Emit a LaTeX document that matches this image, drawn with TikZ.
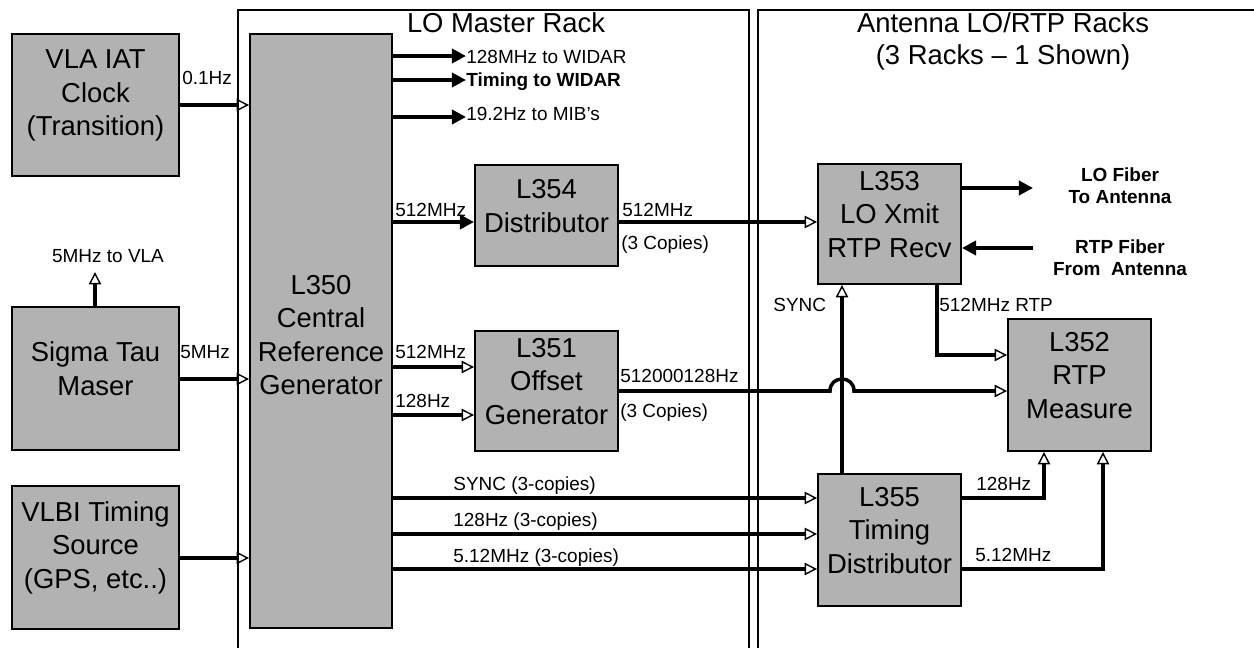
\documentclass[tikz,border=0pt]{standalone}
\usepackage{fontspec}
\setmainfont{Liberation Sans}
\usetikzlibrary{arrows.meta,fit}
\definecolor{boxgray}{RGB}{178,178,178}
\begin{document}
\begin{tikzpicture}[x=0.02cm,y=-0.02cm,
  blk/.style={draw=black,line width=1.1pt,fill=boxgray,inner sep=0pt,align=center,font=\fontsize{15.6}{19}\selectfont},
  boxtxt/.style={align=center,inner sep=0pt,font=\fontsize{15.6}{19}\selectfont},
  lbl/.style={inner sep=0pt,font=\fontsize{10.8}{13}\selectfont},
  blbl/.style={inner sep=0pt,align=center,font=\fontsize{10.8}{12.4}\selectfont\bfseries},
  ttl/.style={inner sep=0pt,align=center,font=\fontsize{15.6}{18}\selectfont},
  frame/.style={draw=black,line width=1.1pt},
  wire/.style={draw=black,line width=2pt},
  oarr/.style={wire,-{Triangle[open,length=7pt,width=7pt,line width=0.8pt]}},
  farr/.style={wire,-{Triangle[length=8pt,width=8pt]}}]
\useasboundingbox (0,0) rectangle (1254,648);
% rack frames
\draw[frame] (238,648) -- (238,10) -- (749,10) -- (749,648);
\draw[frame] (758,648) -- (758,10) -- (1254,10);
\node[ttl,anchor=base] (t_lo) at (506,33) {LO Master Rack};
\node[ttl,anchor=base] (t_ant1) at (1003,33) {Antenna LO/RTP Racks};
\node[ttl,anchor=base] (t_ant2) at (1003,65) {(3 Racks -- 1 Shown)};
% boxes
\node[blk,fit={(12,34)(179,176)}] (iat) {VLA IAT\\Clock\\(Transition)};
\node[blk,fit={(12,307)(179,450)}] (maser) {Sigma Tau\\Maser};
\node[blk,fit={(12,486)(179,629)}] (vlbi) {VLBI Timing\\Source\\(GPS, etc..)};
\node[blk,fit={(250,34)(392,628)}] (l350) {};
\node[boxtxt] (l350t) at (321,335) {L350\\Central\\Reference\\Generator};
\node[blk,fit={(475,165)(618,266)}] (l354) {L354\\Distributor};
\node[blk,fit={(475,331)(618,451)}] (l351) {L351\\Offset\\Generator};
\node[blk,fit={(818,164)(961,284)}] (l353) {L353\\LO Xmit\\RTP Recv};
\node[blk,fit={(1008,319)(1151,451)}] (l352) {L352\\RTP\\Measure};
\node[blk,fit={(818,474)(961,606)}] (l355) {L355\\Timing\\Distributor};
% inputs to L350
\draw[oarr] (iat.east |- 0,105) -- (l350.west |- 0,105);
\node[lbl,anchor=base west] (lb01) at (182,85) {0.1Hz};
\draw[oarr] (maser.east |- 0,379) -- (l350.west |- 0,379);
\node[lbl,anchor=base west] (lb5) at (180,358) {5MHz};
\draw[oarr] (vlbi.east |- 0,558) -- (l350.west |- 0,558);
\node[lbl,anchor=base] (lbvla) at (108,263) {5MHz to VLA};
\coordinate (vlatip) at (95,272);
\draw[oarr] (maser.north -| vlatip) -- (vlatip);
% outputs to WIDAR etc
\node[lbl,anchor=base west] (w1) at (466,64) {128MHz to WIDAR};
\draw[farr] (l350.east |- 0,56) -- (w1.west |- 0,56);
\node[lbl,anchor=base west,font=\fontsize{10.8}{13}\selectfont\bfseries] (w2) at (466,87) {Timing to WIDAR};
\draw[farr] (l350.east |- 0,80) -- (w2.west |- 0,80);
\node[lbl,anchor=base west] (w3) at (466,121) {19.2Hz to MIB's};
\draw[farr] (l350.east |- 0,117) -- (w3.west |- 0,117);
% L350 -> L354 -> L353
\draw[farr] (l350.east |- 0,222) -- (l354.west |- 0,222);
\node[lbl,anchor=base west] (lb512a) at (395,217) {512MHz};
\draw[oarr] (l354.east |- 0,222) -- (l353.west |- 0,222);
\node[lbl,anchor=base west] (lb512b) at (622,217) {512MHz};
\node[lbl,anchor=base west] (lb3a) at (621,250) {(3 Copies)};
% L350 -> L351
\draw[oarr] (l350.east |- 0,367) -- (l351.west |- 0,367);
\node[lbl,anchor=base west] (lb512c) at (395,358) {512MHz};
\draw[oarr] (l350.east |- 0,415) -- (l351.west |- 0,415);
\node[lbl,anchor=base west] (lb128a) at (395,407) {128Hz};
% L351 -> L352 with hop
\draw[oarr] (l351.east |- 0,391) -- (830,391) .. controls (830,375) and (854,375) .. (854,391) -- (l352.west |- 0,391);
\node[lbl,anchor=base west] (lboff) at (620,382) {512000128Hz};
\node[lbl,anchor=base west] (lb3b) at (620,418) {(3 Copies)};
% L350 -> L355
\draw[oarr] (l350.east |- 0,498) -- (l355.west |- 0,498);
\node[lbl,anchor=base west] (lbs3) at (453,490) {SYNC (3-copies)};
\draw[oarr] (l350.east |- 0,534) -- (l355.west |- 0,534);
\node[lbl,anchor=base west] (lb1283) at (453,526) {128Hz (3-copies)};
\draw[oarr] (l350.east |- 0,569) -- (l355.west |- 0,569);
\node[lbl,anchor=base west] (lb5123) at (453,562) {5.12MHz (3-copies)};
% L355 -> L353 SYNC
\draw[oarr] (l355.north -| 842,0) -- (l353.south -| 842,0);
\node[lbl,anchor=base west] (lbsync) at (773,312) {SYNC};
% L353 -> L352
\draw[oarr] (l353.south -| 937,0) -- (937,355) -- (l352.west |- 0,355);
\node[lbl,anchor=base west] (lbrtp) at (939,312) {512MHz RTP};
% fibers
\node[blbl] (lofib) at (1120,186) {LO Fiber\\To Antenna};
\node[blbl] (rtpfib) at (1120,258) {RTP Fiber\\From\ \ Antenna};
\coordinate (lofibend) at (1033,188);
\coordinate (rtpfibstart) at (1033,248);
\draw[farr] (l353.east |- lofibend) -- (lofibend);
\draw[farr] (rtpfibstart) -- (l353.east |- rtpfibstart);
% L355 -> L352
\draw[oarr] (l355.east |- 0,498) -| (l352.south -| 1044,0);
\node[lbl,anchor=base west] (lb128b) at (976,490) {128Hz};
\draw[oarr] (l355.east |- 0,569) -| (l352.south -| 1103,0);
\node[lbl,anchor=base west] (lb512d) at (975,561) {5.12MHz};
\end{tikzpicture}
\end{document}
